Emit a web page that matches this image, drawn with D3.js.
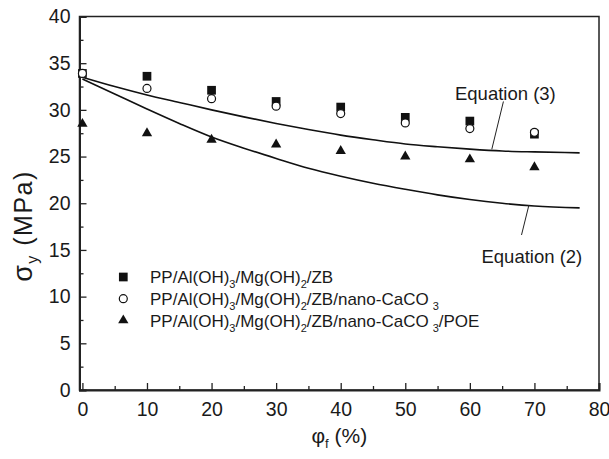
<!DOCTYPE html>
<html>
<head>
<meta charset="utf-8">
<script src="https://cdn.jsdelivr.net/npm/d3@7"></script>
<style>
  body { margin: 0; background: #fff; }
  text { font-family: "Liberation Sans", Arial, sans-serif; fill: #1a1a1a; }
</style>
</head>
<body>
<div id="chart"></div>
<script>
// filler content (%) at which the samples were measured
var fillerPct = [0, 10, 20, 30, 40, 50, 60, 70];
var zbValues = [33.9, 33.6, 32.1, 30.9, 30.3, 29.2, 28.8, 27.4];
var caco3Values = [33.9, 32.3, 31.2, 30.4, 29.6, 28.6, 28.0, 27.6];
var poeValues = [28.5, 27.5, 26.8, 26.3, 25.6, 25.0, 24.7, 23.85];

// model curves
var curveX = [0, 5, 10, 15, 20, 25, 30, 35, 40, 45, 50, 55, 60, 65, 70, 77];
var eq3Values = [33.5, 32.5, 31.6, 30.8, 30.0, 29.25, 28.55, 27.9, 27.3, 26.8, 26.35, 26.05, 25.8, 25.6, 25.5, 25.4];
var eq2Values = [33.3, 31.7, 30.1, 28.55, 27.1, 25.9, 24.8, 23.75, 22.9, 22.15, 21.5, 20.9, 20.4, 20.0, 19.7, 19.5];

var xTicks = [0, 10, 20, 30, 40, 50, 60, 70, 80];
var yTicks = [0, 5, 10, 15, 20, 25, 30, 35, 40];

var width = 609;
var height = 459;

var svg = d3.select("#chart").append("svg")
    .attr("width", width)
    .attr("height", height);

var x = d3.scaleLinear().domain([-0.45, 80]).range([79.5, 599]);
var y = d3.scaleLinear().domain([0, 40]).range([390, 16.5]);

// frame
svg.append("rect")
    .attr("x", x.range()[0]).attr("y", y.range()[1])
    .attr("width", x.range()[1] - x.range()[0])
    .attr("height", y.range()[0] - y.range()[1])
    .style("fill", "none").style("stroke", "#222").style("stroke-width", 1.5);

// minor ticks
svg.append("g")
    .attr("transform", "translate(0," + y(0) + ")")
    .call(d3.axisBottom(x).tickValues(d3.range(5, 80, 10)).tickSize(-4).tickFormat(""))
    .call(function (g) { g.select(".domain").remove(); });
svg.append("g")
    .attr("transform", "translate(" + x.range()[0] + ",0)")
    .call(d3.axisLeft(y).tickValues(d3.range(2.5, 40, 5)).tickSize(-4).tickFormat(""))
    .call(function (g) { g.select(".domain").remove(); });

// major ticks + labels
var xAxis = svg.append("g")
    .attr("transform", "translate(0," + y(0) + ")")
    .call(d3.axisBottom(x).tickValues(xTicks).tickSize(-7).tickPadding(12));
var yAxis = svg.append("g")
    .attr("transform", "translate(" + x.range()[0] + ",0)")
    .call(d3.axisLeft(y).tickValues(yTicks).tickSize(-7).tickPadding(9));

[xAxis, yAxis].forEach(function (g) {
    g.select(".domain").style("stroke", "#222").style("stroke-width", 2);
    g.selectAll("text").style("font-size", "19.5px").style("fill", "#1a1a1a")
        .style("font-family", '"Liberation Sans", Arial, sans-serif');
});
svg.selectAll(".tick line").style("stroke", "#222").style("stroke-width", 1.3);

// axis titles
var xt = svg.append("text")
    .attr("x", (x.range()[0] + x.range()[1]) / 2)
    .attr("y", 443)
    .attr("text-anchor", "middle")
    .style("font-size", "21px");
xt.append("tspan").text("\u03c6");
xt.append("tspan").attr("dy", 5).style("font-size", "13px").text("f");
xt.append("tspan").attr("dy", -5).text(" (%)");

var yt = svg.append("text")
    .attr("transform", "translate(32,226) rotate(-90)")
    .attr("text-anchor", "middle")
    .style("font-size", "25px")
    .style("letter-spacing", "1.5px");
yt.append("tspan").style("font-size", "27px").text("\u03c3");
yt.append("tspan").attr("dy", 6).style("font-size", "16px").text("y");
yt.append("tspan").attr("dy", -6).text(" (MPa)");

// model curves
var line = d3.line()
    .x(function (d) { return x(d[0]); })
    .y(function (d) { return y(d[1]); })
    .curve(d3.curveMonotoneX);

[eq3Values, eq2Values].forEach(function (vals) {
    svg.append("path")
        .datum(curveX.map(function (v, i) { return [v, vals[i]]; }))
        .attr("d", line)
        .style("fill", "none")
        .style("stroke", "#111")
        .style("stroke-width", 1.6);
});

// equation labels with leader lines (data units)
var eqLabels = [
    { text: "Equation (3)", tx: 57.7, ty: 31.06, lx1: 65.2, ly1: 30.9, lx2: 63.4, ly2: 25.78 },
    { text: "Equation (2)", tx: 61.8, ty: 13.57, lx1: 68.0, ly1: 16.6, lx2: 69.15, ly2: 19.81 }
];
eqLabels.forEach(function (d) {
    svg.append("line")
        .attr("x1", x(d.lx1)).attr("y1", y(d.ly1))
        .attr("x2", x(d.lx2)).attr("y2", y(d.ly2))
        .style("stroke", "#222").style("stroke-width", 1);
    svg.append("text")
        .attr("x", x(d.tx)).attr("y", y(d.ty))
        .style("font-size", "18.5px")
        .text(d.text);
});

// markers
var series = [
    { values: zbValues, shape: d3.symbolSquare, size: 76, fill: "#111", stroke: "none" },
    { values: caco3Values, shape: d3.symbolCircle, size: 50, fill: "#fff", stroke: "#111" },
    { values: poeValues, shape: d3.symbolTriangle, size: 46, fill: "#111", stroke: "none" }
];

series.forEach(function (s) {
    var sym = d3.symbol().type(s.shape).size(s.size);
    svg.append("g").selectAll("path")
        .data(s.values)
        .enter()
        .append("path")
        .attr("d", sym)
        .attr("transform", function (d, i) { return "translate(" + x(fillerPct[i]) + "," + y(d) + ")"; })
        .style("fill", s.fill)
        .style("stroke", s.stroke)
        .style("stroke-width", 1.2);
});

// legend
var legendLabels = [
    [["PP/Al(OH)", 0], ["3", 1], ["/Mg(OH)", 0], ["2", 1], ["/ZB", 0]],
    [["PP/Al(OH)", 0], ["3", 1], ["/Mg(OH)", 0], ["2", 1], ["/ZB/nano-CaCO", 0], ["3", 2]],
    [["PP/Al(OH)", 0], ["3", 1], ["/Mg(OH)", 0], ["2", 1], ["/ZB/nano-CaCO", 0], ["3", 2], ["/POE", 0]]
];
var legendY = [283.3, 305, 326.7];

legendLabels.forEach(function (parts, i) {
    var s = series[i];
    svg.append("path")
        .attr("d", d3.symbol().type(s.shape).size(s.size))
        .attr("transform", "translate(123.3," + (legendY[i] - 6.3) + ")")
        .style("fill", s.fill)
        .style("stroke", s.stroke)
        .style("stroke-width", 1.2);

    var t = svg.append("text")
        .attr("x", 150)
        .attr("y", legendY[i])
        .style("font-size", "17px");
    var shift = 0;
    parts.forEach(function (p) {
        var ts = t.append("tspan").text(p[0]);
        if (p[1] > 0) {
            ts.attr("dy", 5 - shift).style("font-size", "11px");
            if (p[1] === 2) ts.attr("dx", 4);
            shift = 5;
        } else {
            ts.attr("dy", -shift);
            shift = 0;
        }
    });
});
</script>
</body>
</html>
